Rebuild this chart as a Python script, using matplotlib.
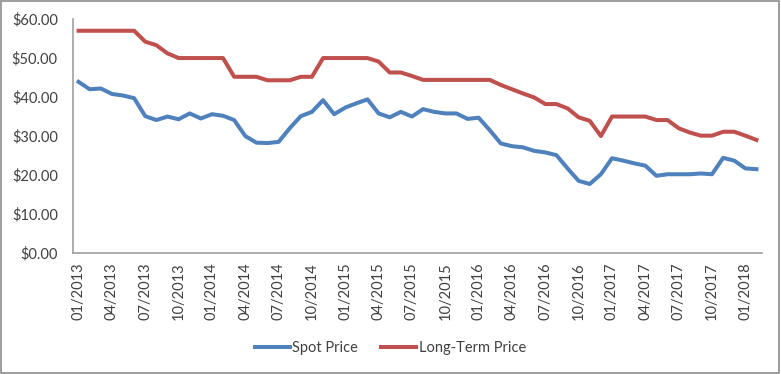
import numpy as np
import matplotlib
matplotlib.use("Agg")
import matplotlib.pyplot as plt
from matplotlib.patches import Rectangle

# monthly prices, 01/2013 .. 02/2018
spot_price = [43.9, 42.0, 42.2, 40.8, 40.4, 39.7, 35.1, 34.1, 35.0, 34.3,
              35.8, 34.5, 35.6, 35.2, 34.1, 30.0, 28.3, 28.2, 28.5, 32.0,
              35.1, 36.2, 39.2, 35.6, 37.3, 38.4, 39.4, 35.8, 34.8, 36.2,
              35.0, 36.9, 36.2, 35.8, 35.8, 34.4, 34.7, 31.5, 28.1, 27.4,
              27.1, 26.2, 25.8, 25.1, 21.7, 18.5, 17.7, 20.2, 24.3, 23.7,
              23.0, 22.4, 19.8, 20.2, 20.2, 20.2, 20.4, 20.2, 24.4, 23.7,
              21.7, 21.5]
long_term_price = [57.0, 57.0, 57.0, 57.0, 57.0, 57.0, 54.2, 53.3, 51.2, 50.0,
                   50.0, 50.0, 50.0, 50.0, 45.2, 45.2, 45.2, 44.3, 44.3, 44.3,
                   45.2, 45.2, 50.0, 50.0, 50.0, 50.0, 50.0, 49.1, 46.3, 46.3,
                   45.4, 44.4, 44.4, 44.4, 44.4, 44.4, 44.4, 44.4, 43.1, 42.0,
                   40.9, 39.9, 38.2, 38.2, 37.1, 34.8, 33.9, 30.0, 35.0, 35.0,
                   35.0, 35.0, 34.1, 34.1, 32.0, 30.9, 30.1, 30.1, 31.1, 31.1,
                   30.1, 29.0]
tick_labels = ["01/2013", "04/2013", "07/2013", "10/2013", "01/2014", "04/2014",
               "07/2014", "10/2014", "01/2015", "04/2015", "07/2015", "10/2015",
               "01/2016", "04/2016", "07/2016", "10/2016", "01/2017", "04/2017",
               "07/2017", "10/2017", "01/2018"]
y_ticks = [0, 10, 20, 30, 40, 50, 60]

plt.rcParams['font.family'] = ['Lato', 'DejaVu Sans']
FS = 10.5

fig = plt.figure(figsize=(7.81, 3.74), dpi=100)
ax = fig.add_axes([0.0935, 0.3235, 0.8822, 0.6255])

x = np.arange(len(spot_price))
ax.plot(x, spot_price, color='#4F81BD', lw=2.9, label='Spot Price', solid_joinstyle='round')
ax.plot(x, long_term_price, color='#C0504D', lw=2.9, label='Long-Term Price', solid_joinstyle='round')

ax.set_xlim(-0.5, len(spot_price) - 0.5)
ax.set_ylim(0, 60)
ax.set_yticks(y_ticks)
ax.set_yticklabels([f"${v:.2f}" for v in y_ticks])
ax.set_xticks(np.arange(0, 3 * len(tick_labels), 3))
ax.set_xticklabels(tick_labels, rotation=90)
ax.tick_params(axis='both', length=0, labelsize=FS, colors='#404040')
ax.tick_params(axis='x', pad=6.5)
ax.tick_params(axis='y', pad=11)

for s in ['top', 'right']:
    ax.spines[s].set_visible(False)
for s in ['left', 'bottom']:
    ax.spines[s].set_color('#A0A0A0')
    ax.spines[s].set_linewidth(1.2)

leg = ax.legend(loc='center', bbox_to_anchor=(0.5, 0.07), bbox_transform=fig.transFigure,
                ncol=2, frameon=False, fontsize=FS, handlelength=2.4,
                handletextpad=0.15, columnspacing=1.6)
for t in leg.get_texts():
    t.set_color('#404040')

fig.add_artist(Rectangle((0.001, 0.002), 0.997, 0.995, transform=fig.transFigure,
                         fill=False, edgecolor='#8C8C8C', lw=1.2))

fig.savefig('out.png', dpi=100)
